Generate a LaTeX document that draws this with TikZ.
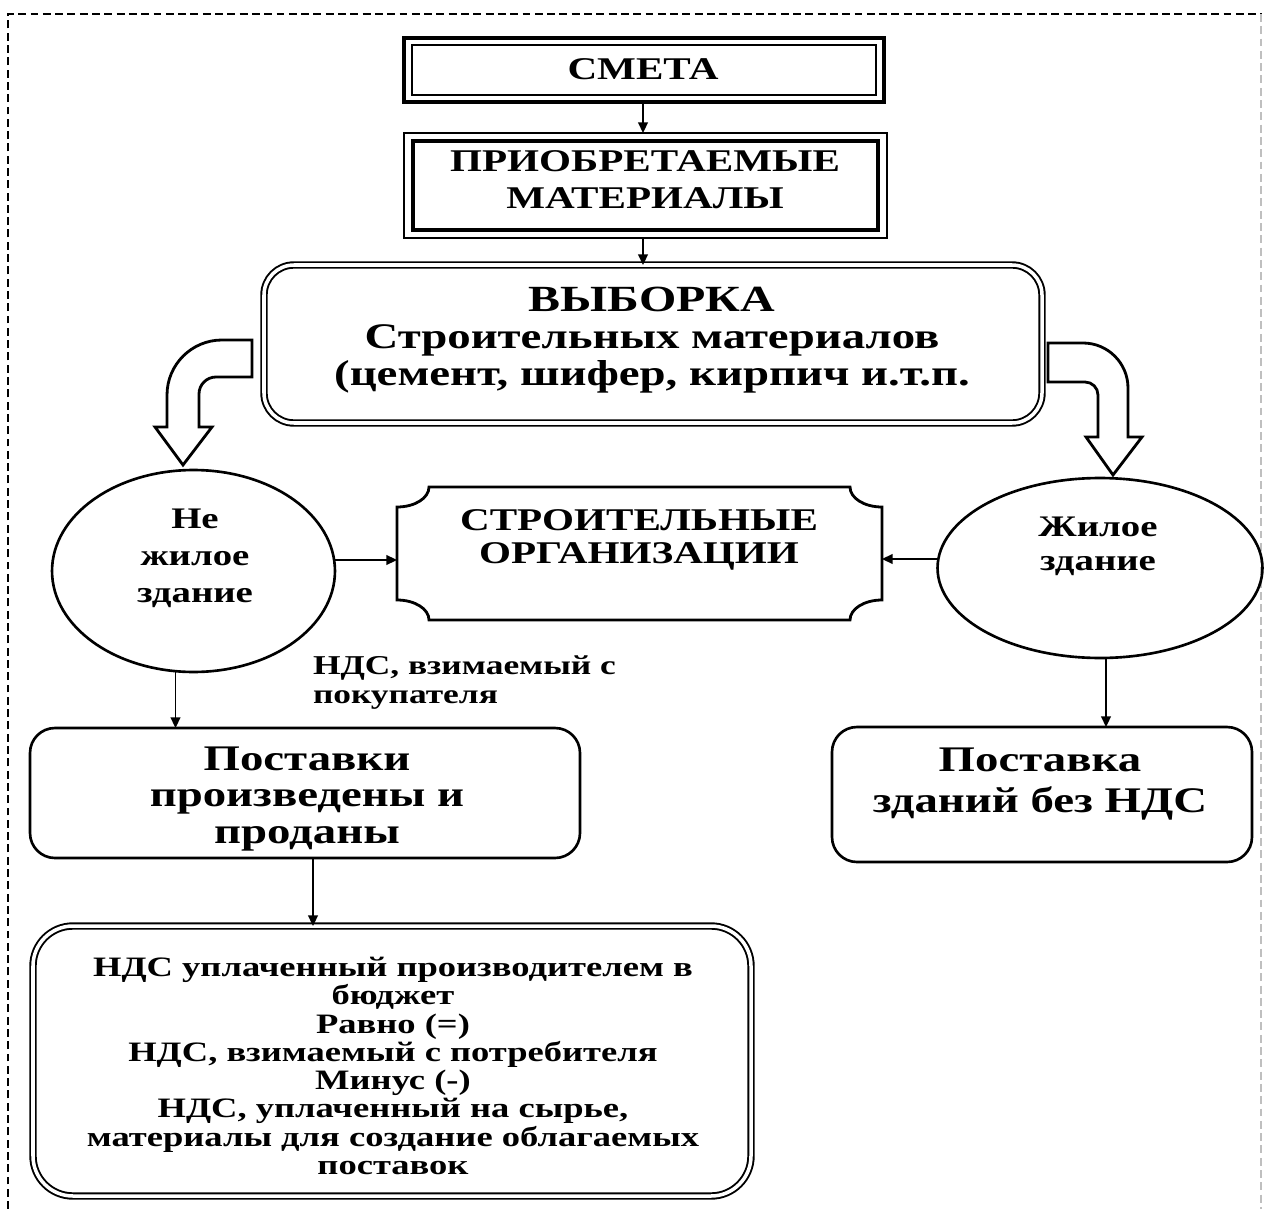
\documentclass[tikz,border=0pt]{standalone}
\usepackage{fontspec}
\setmainfont{Liberation Serif}[FakeStretch=1.3]
\usetikzlibrary{arrows.meta,shapes.geometric,calc,fit}
\begin{document}
\begin{tikzpicture}[x=0.02cm,y=-0.02cm,
  every node/.style={inner sep=0pt,outer sep=0pt},
  arr/.style={-{Triangle[length=6pt,width=5.5pt]},line width=1pt},
  boxfit/.style={rectangle,inner sep=0pt},
  dbl/.style={draw,double=white,line width=1.1pt,double distance=2pt},
  txt/.style={align=center,font=\bfseries},
  bigarrow/.style={draw,line width=1.6pt,fill=white,line join=miter},
  frame/.style={line width=1pt,dash pattern=on 4.5pt off 2.5pt}
]
\useasboundingbox (0,0) rectangle (1264,1209);
% dashed frame
\draw[frame] (8,1209) -- (8,14) -- (1262,14);
\draw[frame,black!25] (1261,14) -- (1261,1209);

% СМЕТА
\node[boxfit,draw,line width=2.4pt,fit={(404,38) (884,102)}] (smeta) {};
\draw[line width=0.9pt] ($(smeta.north west)+(8,7)$) rectangle ($(smeta.south east)+(-8,-7)$);
\node[txt,font=\bfseries\fontsize{18}{21}\selectfont] (tsmeta) at (643,69) {СМЕТА};

% ПРИОБРЕТАЕМЫЕ МАТЕРИАЛЫ
\node[boxfit,draw,line width=1.4pt,fit={(404,133) (887,238)}] (priob) {};
\draw[line width=1.8pt] ($(priob.north west)+(9,8)$) rectangle ($(priob.south east)+(-9,-8)$);
\node[txt,font=\bfseries\fontsize{18}{21}\selectfont] (tpriob) at (645,180) {ПРИОБРЕТАЕМЫЕ\\МАТЕРИАЛЫ};

% ВЫБОРКА
\node[boxfit,dbl,rounded corners=0.6cm,fit={(264,265) (1042,423)}] (vyb) {};
\node[txt,font=\bfseries\fontsize{20.5}{21}\selectfont] (tvyb) at (652,340)
  {{\fontsize{21}{21}\selectfont ВЫБОРКА}\\Строительных материалов\\(цемент, шифер, кирпич и.т.п.};

% big bent arrows
\draw[bigarrow] (252,340) -- (222,340) arc[start angle=90,end angle=180,radius=1.1cm]
  -- (167,427) -- (155,427) -- (183,465) -- (212,427) -- (199,427) -- (199,394)
  arc[start angle=180,end angle=90,radius=0.34cm] -- (252,377) -- cycle;
\draw[bigarrow] (1048,343) -- (1083,343) arc[start angle=90,end angle=0,radius=0.9cm]
  -- (1128,437) -- (1142,437) -- (1113,475) -- (1086,437) -- (1098,437) -- (1098,395)
  arc[start angle=0,end angle=90,radius=0.26cm] -- (1048,382) -- cycle;

% ellipses
\node[ellipse,draw,line width=1.5pt,minimum width=5.66cm,minimum height=4.04cm] (nezh) at (193.5,571) {};
\node[txt,font=\bfseries\fontsize{17}{21}\selectfont] (tnezh) at (195,558) {Не\\жилое\\здание};
\node[ellipse,draw,line width=1.5pt,minimum width=6.5cm,minimum height=3.6cm] (zh) at (1100,568) {};
\node[txt,font=\bfseries\fontsize{17}{19.5}\selectfont] (tzh) at (1098,546) {Жилое\\здание};

% СТРОИТЕЛЬНЫЕ ОРГАНИЗАЦИИ
\node[boxfit,fit={(397,487) (882,620)}] (org) {};
\draw[line width=1.6pt] (429,487) -- (850,487) .. controls (850,498) and (864,507) .. (882,507)
  -- (882,600) .. controls (864,600) and (850,609) .. (850,620) -- (429,620)
  .. controls (429,609) and (415,600) .. (397,600) -- (397,507)
  .. controls (415,507) and (429,498) .. (429,487) -- cycle;
\node[txt,font=\bfseries\fontsize{18}{19}\selectfont] (torg) at (639,540) {СТРОИТЕЛЬНЫЕ\\ОРГАНИЗАЦИИ};

\draw[arr] ($(nezh.east)+(0,-11)$) -- ($(org.west)+(0,6.5)$);
\draw[arr] ($(zh.west)+(0,-9)$) -- ($(org.east)+(0,5.5)$);

% label
\node[align=left,anchor=west,font=\bfseries\fontsize{15.5}{16.5}\selectfont] (lnds) at (313,683) {НДС, взимаемый с\\покупателя};

% lower boxes
\node[boxfit,draw,line width=1.5pt,rounded corners=0.5cm,fit={(30,728) (580,858)}] (postL) {};
\node[txt,font=\bfseries\fontsize{20.5}{21}\selectfont] (tpostL) at (307,799) {Поставки\\произведены и\\проданы};
\node[boxfit,draw,line width=1.5pt,rounded corners=0.5cm,fit={(832,727) (1252,862)}] (postR) {};
\node[txt,font=\bfseries\fontsize{20.5}{23}\selectfont] (tpostR) at (1040,784) {Поставка\\зданий без НДС};

\coordinate (nl) at ($(nezh.south)+(-18,-1)$);
\draw[arr] (nl) -- (nl |- postL.north);
\coordinate (zr) at ($(zh.south)+(6,0)$);
\draw[arr] (zr) -- (zr |- postR.north);

% bottom box
\node[boxfit,dbl,rounded corners=0.8cm,fit={(33,926) (751,1196)}] (bot) {};
\node[txt,font=\bfseries\fontsize{16}{16.1}\selectfont] (tbot) at (393,1066)
  {НДС уплаченный производителем в\\бюджет\\Равно (=)\\НДС, взимаемый с потребителя\\Минус (-)\\НДС, уплаченный на сырье,\\материалы для создание облагаемых\\поставок};
\coordinate (pl) at ($(postL.south)+(8,0)$);
\draw[arr] (pl) -- (pl |- bot.north);

\draw[arr] (smeta.south -| 643,0) -- (priob.north -| 643,0);
\draw[arr] (priob.south -| 643,0) -- (vyb.north -| 643,0);
\end{tikzpicture}
\end{document}
